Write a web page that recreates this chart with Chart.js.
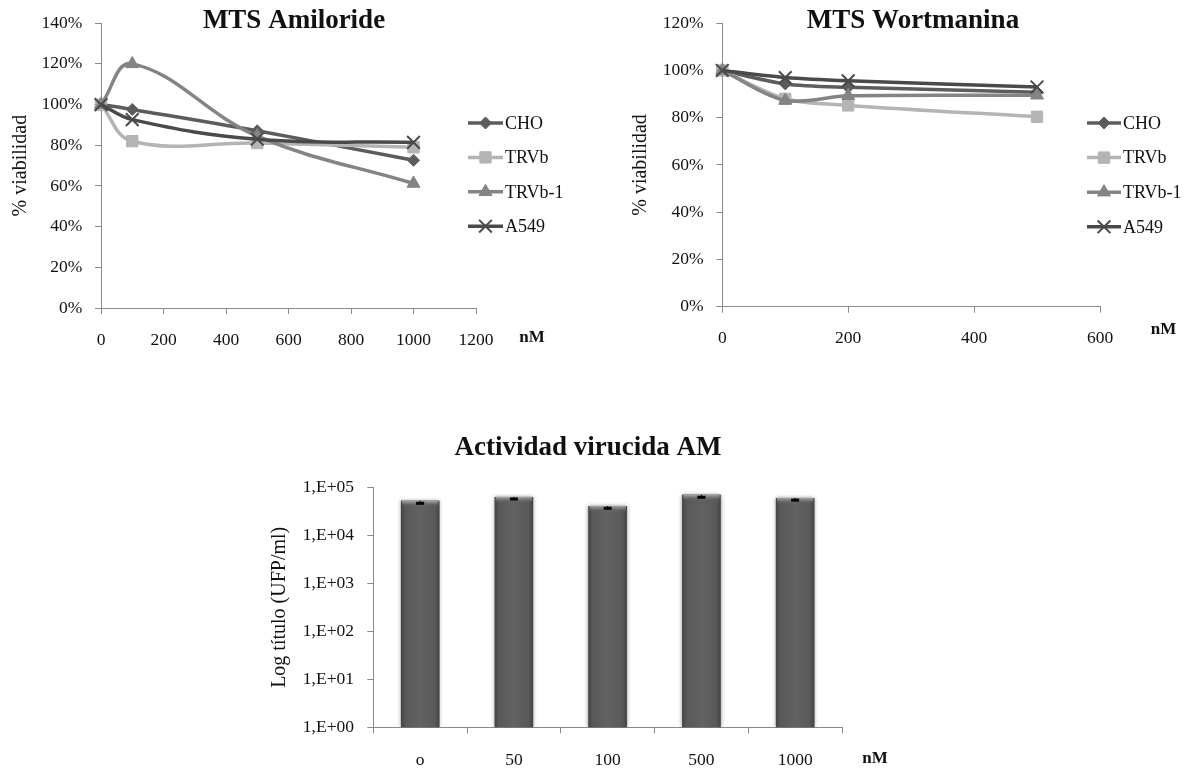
<!DOCTYPE html>
<html>
<head>
<meta charset="utf-8">
<script src="https://cdn.jsdelivr.net/npm/chart.js@4/dist/chart.umd.min.js"></script>
<style>
  html, body { margin: 0; padding: 0; background: #fff; }
  body { width: 1190px; height: 769px; position: relative; overflow: hidden; }
  canvas { position: absolute; }
</style>
</head>
<body>
<canvas id="amiloride" width="595" height="360" style="left:0;top:0;"></canvas>
<canvas id="wortmanina" width="595" height="360" style="left:595px;top:0;"></canvas>
<canvas id="virucida" width="1190" height="369" style="left:0;top:400px;"></canvas>
<script>
// ---- MTS viability, amiloride (nM vs % viability) ----
const cellLines = ['CHO', 'TRVb', 'TRVb-1', 'A549'];

const amilorideDose   = [0, 100, 500, 1000];
const amilorideCHO    = [100, 97.6, 87.1, 72.6];
const amilorideTRVb   = [100, 82.0, 81.1, 79.0];
const amilorideTRVb1  = [100, 120.0, 84.5, 61.2];
const amilorideA549   = [100, 92.6, 83.0, 81.4];

// ---- MTS viability, wortmannin ----
const wortDose  = [0, 100, 200, 500];
const wortCHO   = [100, 94.3, 92.9, 90.8];
const wortTRVb  = [100, 88.0, 85.2, 80.4];
const wortTRVb1 = [100, 87.3, 89.3, 89.5];
const wortA549  = [100, 97.0, 95.6, 93.0];

// ---- virucidal activity of AM (titre, UFP/ml) ----
const amDose     = ['o', '50', '100', '500', '1000'];
const amTitre    = [52500, 63000, 40700, 70000, 60000];
const amTitreErr = [6100, 6000, 4200, 8000, 6000];
const titreTicks = [1, 10, 100, 1000, 10000, 100000];
const titreTickLabels = ['1,E+00', '1,E+01', '1,E+02', '1,E+03', '1,E+04', '1,E+05'];

const SERIF = '"Liberation Serif", "Times New Roman", serif';
const INK = '#111';
const AXIS = '#8a8a8a';

const seriesStyle = [
  { color: '#5c5c5c', pointStyle: 'rectRot',  radius: 6,   pointBorderWidth: 1, order: 4 },
  { color: '#b4b4b4', pointStyle: 'rect',     radius: 8,   pointBorderWidth: 1, order: 3 },
  { color: '#848484', pointStyle: 'triangle', radius: 7.5, pointBorderWidth: 1, order: 2 },
  { color: '#4a4a4a', pointStyle: 'crossRot', radius: 9,   pointBorderWidth: 2, order: 1 }
];

function lineDatasets(dose, seriesValues, tension) {
  return seriesValues.map((vals, k) => {
    const s = seriesStyle[k];
    return {
      label: cellLines[k],
      data: dose.map((d, i) => ({ x: d, y: vals[i] })),
      borderColor: s.color,
      backgroundColor: s.color,
      pointBackgroundColor: s.color,
      pointBorderColor: s.color,
      pointStyle: s.pointStyle,
      pointRadius: s.radius,
      pointHoverRadius: s.radius,
      pointBorderWidth: s.pointBorderWidth,
      borderWidth: 3.5,
      tension: tension,
      order: s.order,
      clip: false
    };
  });
}

// Free text placed on the canvas (titles, unit labels)
const panelText = {
  id: 'panelText',
  afterDraw(chart, args, opts) {
    const ctx = chart.ctx;
    (opts.items || []).forEach(it => {
      ctx.save();
      ctx.font = it.font;
      ctx.fillStyle = INK;
      ctx.textAlign = it.align || 'center';
      ctx.textBaseline = 'alphabetic';
      ctx.fillText(it.text, it.x, it.y);
      ctx.restore();
    });
  }
};

// Legend with a line segment through each marker
const lineLegend = {
  id: 'lineLegend',
  afterDraw(chart, args, opts) {
    if (!opts || opts.x === undefined) return;
    const ctx = chart.ctx;
    chart.data.datasets.forEach((ds, i) => {
      const y = opts.y + i * opts.dy;
      const x0 = opts.x, x1 = opts.x + opts.len, xm = (x0 + x1) / 2;
      ctx.save();
      ctx.strokeStyle = ds.borderColor;
      ctx.lineWidth = ds.borderWidth;
      ctx.beginPath();
      ctx.moveTo(x0, y);
      ctx.lineTo(x1, y);
      ctx.stroke();
      ctx.fillStyle = ds.pointBackgroundColor;
      ctx.strokeStyle = ds.pointBorderColor;
      ctx.lineWidth = ds.pointBorderWidth;
      Chart.helpers.drawPoint(ctx, {
        pointStyle: ds.pointStyle, radius: ds.pointRadius,
        borderWidth: ds.pointBorderWidth, rotation: 0
      }, xm, y);
      ctx.font = '18px ' + SERIF;
      ctx.fillStyle = INK;
      ctx.textAlign = 'left';
      ctx.textBaseline = 'middle';
      ctx.fillText(ds.label, x1 + 2, y + 1);
      ctx.restore();
    });
  }
};

function axisGrid() {
  return { display: true, drawOnChartArea: false, drawTicks: true, tickLength: 6, color: AXIS, lineWidth: 1 };
}
function axisBorder() {
  return { display: true, color: AXIS, width: 1 };
}

function lineChart(id, dose, series, o) {
  return new Chart(document.getElementById(id), {
    type: 'line',
    data: { datasets: lineDatasets(dose, series, o.tension) },
    plugins: [panelText, lineLegend],
    options: {
      responsive: false,
      animation: false,
      events: [],
      layout: { padding: { top: o.padTop, right: o.padRight, left: 0, bottom: 0 } },
      plugins: {
        legend: { display: false },
        tooltip: { enabled: false },
        lineLegend: o.legend,
        panelText: { items: o.text }
      },
      scales: {
        x: {
          type: 'linear', min: 0, max: o.xMax,
          grid: axisGrid(), border: axisBorder(),
          ticks: { stepSize: 200, color: INK, padding: o.xPad, maxRotation: 0,
                   font: { family: SERIF, size: 17.5 }, callback: v => String(v) },
          afterFit: s => { s.height = o.xHeight; }
        },
        y: {
          min: 0, max: o.yMax,
          grid: axisGrid(), border: axisBorder(),
          ticks: { stepSize: 20, color: INK, padding: 12.7,
                   font: { family: SERIF, size: 17.5 }, callback: v => v + '%' },
          title: { display: true, text: '% viabilidad', color: INK,
                   font: { family: SERIF, size: 20 }, padding: { top: o.yTitlePad, bottom: 0 } },
          afterFit: s => { s.width = o.yWidth; }
        }
      }
    }
  });
}

lineChart('amiloride', amilorideDose,
  [amilorideCHO, amilorideTRVb, amilorideTRVb1, amilorideA549], {
    tension: 0.4, xMax: 1200, yMax: 140,
    padTop: 19, padRight: 119, xHeight: 52, yWidth: 101, xPad: 15.5, yTitlePad: 8.5,
    legend: { x: 468, y: 123, dy: 34.4, len: 35 },
    text: [
      { text: 'MTS Amiloride', x: 294, y: 28, font: 'bold 27px ' + SERIF },
      { text: 'nM', x: 532, y: 342, font: 'bold 17px ' + SERIF }
    ]
  });

lineChart('wortmanina', wortDose,
  [wortCHO, wortTRVb, wortTRVb1, wortA549], {
    tension: 0.3, xMax: 600, yMax: 120,
    padTop: 15.7, padRight: 90, xHeight: 53.3, yWidth: 127.3, xPad: 15.7, yTitlePad: 33.5,
    legend: { x: 492, y: 123, dy: 34.6, len: 34 },
    text: [
      { text: 'MTS Wortmanina', x: 318, y: 28, font: 'bold 27px ' + SERIF },
      { text: 'nM', x: 568.5, y: 334, font: 'bold 17px ' + SERIF }
    ]
  });

// Bevelled bar fill plus minus-direction error caps
const barFinish = {
  id: 'barFinish',
  beforeDatasetsDraw(chart) {
    const ctx = chart.ctx;
    ctx.save();
    ctx.shadowColor = 'rgba(0,0,0,0.45)';
    ctx.shadowBlur = 4;
  },
  afterDatasetsDraw(chart, args, opts) {
    const ctx = chart.ctx;
    ctx.restore();
    const yScale = chart.scales.y;
    const values = chart.data.datasets[0].data;
    chart.getDatasetMeta(0).data.forEach((bar, i) => {
      const p = bar.getProps(['x', 'y', 'base', 'width'], true);
      const left = p.x - p.width / 2;
      const g = ctx.createLinearGradient(left, 0, left + p.width, 0);
      g.addColorStop(0, '#444');
      g.addColorStop(0.12, '#595959');
      g.addColorStop(0.5, '#626262');
      g.addColorStop(0.88, '#595959');
      g.addColorStop(1, '#444');
      ctx.fillStyle = g;
      ctx.fillRect(left, p.y, p.width, p.base - p.y);
      const t = ctx.createLinearGradient(0, p.y, 0, p.y + 6);
      t.addColorStop(0, 'rgba(170,170,170,1)');
      t.addColorStop(1, 'rgba(98,98,98,0)');
      ctx.fillStyle = t;
      ctx.fillRect(left + 1, p.y, p.width - 2, 6);

      const yLow = yScale.getPixelForValue(values[i] - opts.err[i]);
      ctx.strokeStyle = '#000';
      ctx.lineWidth = 1;
      ctx.beginPath();
      ctx.moveTo(p.x, p.y);
      ctx.lineTo(p.x, yLow);
      ctx.stroke();
      ctx.fillStyle = '#000';
      ctx.fillRect(p.x - 4, yLow - 1.5, 8, 3);
    });
  }
};

new Chart(document.getElementById('virucida'), {
  type: 'bar',
  data: {
    labels: amDose,
    datasets: [{
      data: amTitre,
      backgroundColor: '#5e5e5e',
      borderWidth: 0,
      barPercentage: 0.41,
      categoryPercentage: 1
    }]
  },
  plugins: [barFinish, panelText],
  options: {
    responsive: false,
    animation: false,
    events: [],
    layout: { padding: { top: 87.3, right: 348, left: 0, bottom: 0 } },
    plugins: {
      legend: { display: false },
      tooltip: { enabled: false },
      barFinish: { err: amTitreErr },
      panelText: { items: [
        { text: 'Actividad virucida AM', x: 588, y: 55, font: 'bold 27px ' + SERIF },
        { text: 'nM', x: 875, y: 363, font: 'bold 17px ' + SERIF }
      ] }
    },
    scales: {
      x: {
        grid: Object.assign(axisGrid(), { offset: true }),
        border: axisBorder(),
        ticks: { color: INK, padding: 17, maxRotation: 0, font: { family: SERIF, size: 17.5 } },
        afterFit: s => { s.height = 41.7; }
      },
      y: {
        type: 'logarithmic', min: 1, max: 100000,
        grid: axisGrid(), border: axisBorder(),
        afterBuildTicks: s => { s.ticks = titreTicks.map(v => ({ value: v })); },
        ticks: { color: INK, padding: 13.3, font: { family: SERIF, size: 17.5 },
                 callback: v => titreTickLabels[titreTicks.indexOf(v)] },
        title: { display: true, text: 'Log título (UFP/ml)', color: INK,
                 font: { family: SERIF, size: 20 }, padding: { top: 268, bottom: 0 } },
        afterFit: s => { s.width = 373.3; }
      }
    }
  }
});
</script>
</body>
</html>
